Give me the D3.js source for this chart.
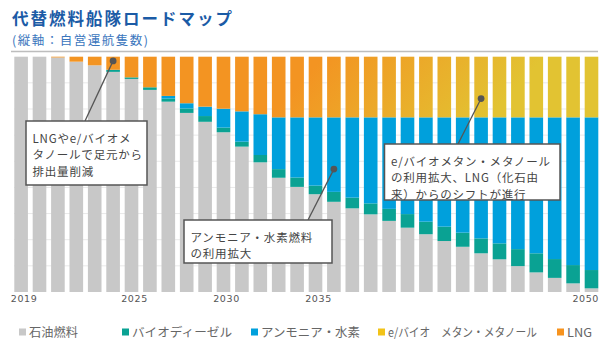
<!DOCTYPE html>
<html lang="ja">
<head>
<meta charset="utf-8">
<script src="https://cdn.jsdelivr.net/npm/d3@7"></script>
<style>
  html, body { margin: 0; padding: 0; background: #fff; }
  svg { display: block; font-family: "Noto Sans CJK JP", "Noto Sans", sans-serif; }
</style>
</head>
<body>
<svg id="chart" width="600" height="348"></svg>
<script>
// Fleet composition by fuel type, 2019–2050 (ships operated in-house)
const years = [2019, 2020, 2021, 2022, 2023, 2024, 2025, 2026, 2027, 2028, 2029, 2030,
  2031, 2032, 2033, 2034, 2035, 2036, 2037, 2038, 2039, 2040,
  2041, 2042, 2043, 2044, 2045, 2046, 2047, 2048, 2049, 2050];

const fossil = [90, 90, 89.7, 88.1, 86.7, 84.2, 81.5, 77.3, 72.8, 68.5, 65.1, 61.1,
  55.6, 49.6, 43.7, 40.2, 37.4, 34.5, 32.0, 29.7, 27.2, 24.6,
  22.1, 19.5, 17.3, 14.8, 12.5, 9.9, 7.5, 5.4, 3.3, 1.4];

const biodiesel = [0, 0, 0, 0, 0, 0.8, 0.6, 1.0, 1.2, 1.7, 2.2, 1.8,
  1.9, 2.8, 3.3, 3.6, 3.3, 3.8, 4.1, 4.2, 4.6, 5.2,
  4.8, 5.5, 5.4, 5.7, 6.1, 6.5, 7.3, 7.2, 7.0, 7.0];

const ammoniaH2 = [0, 0, 0, 0, 0, 0, 0, 0, 1.0, 2.0, 3.6, 7.2,
  11.6, 15.6, 19.8, 23.0, 26.1, 28.5, 30.7, 32.9, 35.0, 37.0,
  39.9, 41.8, 44.1, 46.3, 48.2, 50.4, 52.0, 54.2, 56.5, 58.4];

// LNG shifting over time into e/bio methane & methanol (drawn as one blended band)
const lngToMethane = [0, 0, 0.3, 1.9, 3.3, 5.0, 7.9, 11.7, 15.0, 17.8, 19.1, 19.9,
  20.9, 22.0, 23.2, 23.2, 23.2, 23.2, 23.2, 23.2, 23.2, 23.2,
  23.2, 23.2, 23.2, 23.2, 23.2, 23.2, 23.2, 23.2, 23.2, 23.2];

const tickYears = [2019, 2025, 2030, 2035, 2050];
const gridValues = [10, 20, 30, 40, 50, 60, 70, 80];

const legendItems = [
  { label: "石油燃料", color: "#c8c8c8", x: 19, w: 49 },
  { label: "バイオディーゼル", color: "#0aa293", x: 122, w: 100 },
  { label: "アンモニア・水素", color: "#00a0dc", x: 251, w: 99 },
  { label: "e/バイオ　メタン・メタノール", color: "#f2c318", x: 378, w: 149 },
  { label: "LNG", color: "#f7931e", x: 557, w: 25 }
];

const notes = [
  { year: 2024, value: 88.4, box: [26, 121, 121, 64], anchor: [85, 121],
    lines: ["LNGやe/バイオメ", "タノールで足元から", "排出量削減"] },
  { year: 2036, value: 47, box: [184, 220, 148, 43], anchor: [308, 220],
    lines: ["アンモニア・水素燃料", "の利用拡大"] },
  { year: 2044, value: 74, box: [384.5, 144, 175.5, 56], anchor: [458, 144],
    lines: ["e/バイオメタン・メタノール", "の利用拡大、LNG（化石由", "来）からのシフトが進行"] }
];

const svg = d3.select("#chart");

const rows = years.map((y, i) => ({
  year: y, fossil: fossil[i], biodiesel: biodiesel[i],
  ammoniaH2: ammoniaH2[i], lngToMethane: lngToMethane[i]
}));
const keys = ["fossil", "biodiesel", "ammoniaH2", "lngToMethane"];
const fills = { fossil: "#c8c8c8", biodiesel: "#0aa293", ammoniaH2: "#00a0dc", lngToMethane: "url(#lngGrad)" };

const x = d3.scaleBand().domain(years).range([14.3, 598.3]).paddingInner(0.26).paddingOuter(0);
const y = d3.scaleLinear().domain([0, 90]).range([292, 56.7]);

// orange (LNG) blending into yellow (e/bio methane) toward later years
const defs = svg.append("defs");
const grad = defs.append("linearGradient").attr("id", "lngGrad")
  .attr("gradientUnits", "userSpaceOnUse")
  .attr("x1", 330).attr("y1", 50).attr("x2", 450).attr("y2", 160);
grad.append("stop").attr("offset", 0).attr("stop-color", "#f39422");
grad.append("stop").attr("offset", 1).attr("stop-color", "#e2c332");

// title
svg.append("text").attr("x", 12).attr("y", 25)
  .attr("font-size", 16.5).attr("font-weight", 700).attr("fill", "#1b5ba6")
  .attr("letter-spacing", 2)
  .text("代替燃料船隊ロードマップ");
svg.append("text").attr("x", 12).attr("y", 44.6)
  .attr("font-size", 12.5).attr("fill", "#3a76bd").attr("letter-spacing", 1.5)
  .text("(縦軸：自営運航隻数)");

svg.append("line").attr("x1", 11).attr("x2", 598).attr("y1", 51.5).attr("y2", 51.5)
  .attr("stroke", "#bdbdbd").attr("stroke-width", 1.6);

// gridlines
svg.append("g").selectAll("line").data(gridValues).join("line")
  .attr("x1", 14).attr("x2", 598)
  .attr("y1", d => y(d)).attr("y2", d => y(d))
  .attr("stroke", "#e9e9e9").attr("stroke-width", 1);

// stacked bars
const series = d3.stack().keys(keys)(rows);
svg.append("g").selectAll("g").data(series).join("g")
  .attr("fill", d => fills[d.key])
  .selectAll("rect").data(d => d).join("rect")
  .attr("x", d => x(d.data.year))
  .attr("width", x.bandwidth())
  .attr("y", d => y(d[1]))
  .attr("height", d => Math.max(0, y(d[0]) - y(d[1])));

// x axis labels
const axis = svg.append("g").attr("transform", "translate(3,295)")
  .call(d3.axisBottom(x).tickValues(tickYears).tickSize(0).tickPadding(0));
axis.select(".domain").remove();
axis.selectAll("text")
  .attr("font-family", "DejaVu Sans, sans-serif")
  .attr("font-size", 9.5).attr("fill", "#555").attr("letter-spacing", 0.6)
  .attr("dy", "0.71em");
axis.selectAll(".tick").filter(d => d === 2050).select("text")
  .attr("text-anchor", "end").attr("x", 599 - 3 - (x(2050) + x.bandwidth() / 2));

// annotations
const ann = svg.append("g");
notes.forEach(n => {
  const cx = x(n.year) + x.bandwidth() / 2, cy = y(n.value);
  ann.append("line").attr("x1", cx).attr("y1", cy)
    .attr("x2", n.anchor[0]).attr("y2", n.anchor[1])
    .attr("stroke", "#555").attr("stroke-width", 1.3);
  ann.append("circle").attr("cx", cx).attr("cy", cy).attr("r", 3.4).attr("fill", "#555");
  const [bx, by, bw, bh] = n.box;
  ann.append("rect").attr("x", bx).attr("y", by).attr("width", bw).attr("height", bh)
    .attr("fill", "#fff").attr("stroke", "#555").attr("stroke-width", 1.5);
  n.lines.forEach((l, i) => {
    ann.append("text").attr("x", bx + 6.5).attr("y", by + 21.5 + i * 16.7)
      .attr("font-size", 11.5).attr("letter-spacing", 0.8).attr("fill", "#444").text(l);
  });
});

// legend
const lg = svg.append("g");
legendItems.forEach(it => {
  lg.append("rect").attr("x", it.x).attr("y", 328.5).attr("width", 7).attr("height", 7).attr("fill", it.color);
  lg.append("text").attr("x", it.x + 10).attr("y", 337)
    .attr("font-size", 12).attr("fill", "#666")
    .attr("textLength", it.w).attr("lengthAdjust", "spacingAndGlyphs")
    .text(it.label);
});
</script>
</body>
</html>
